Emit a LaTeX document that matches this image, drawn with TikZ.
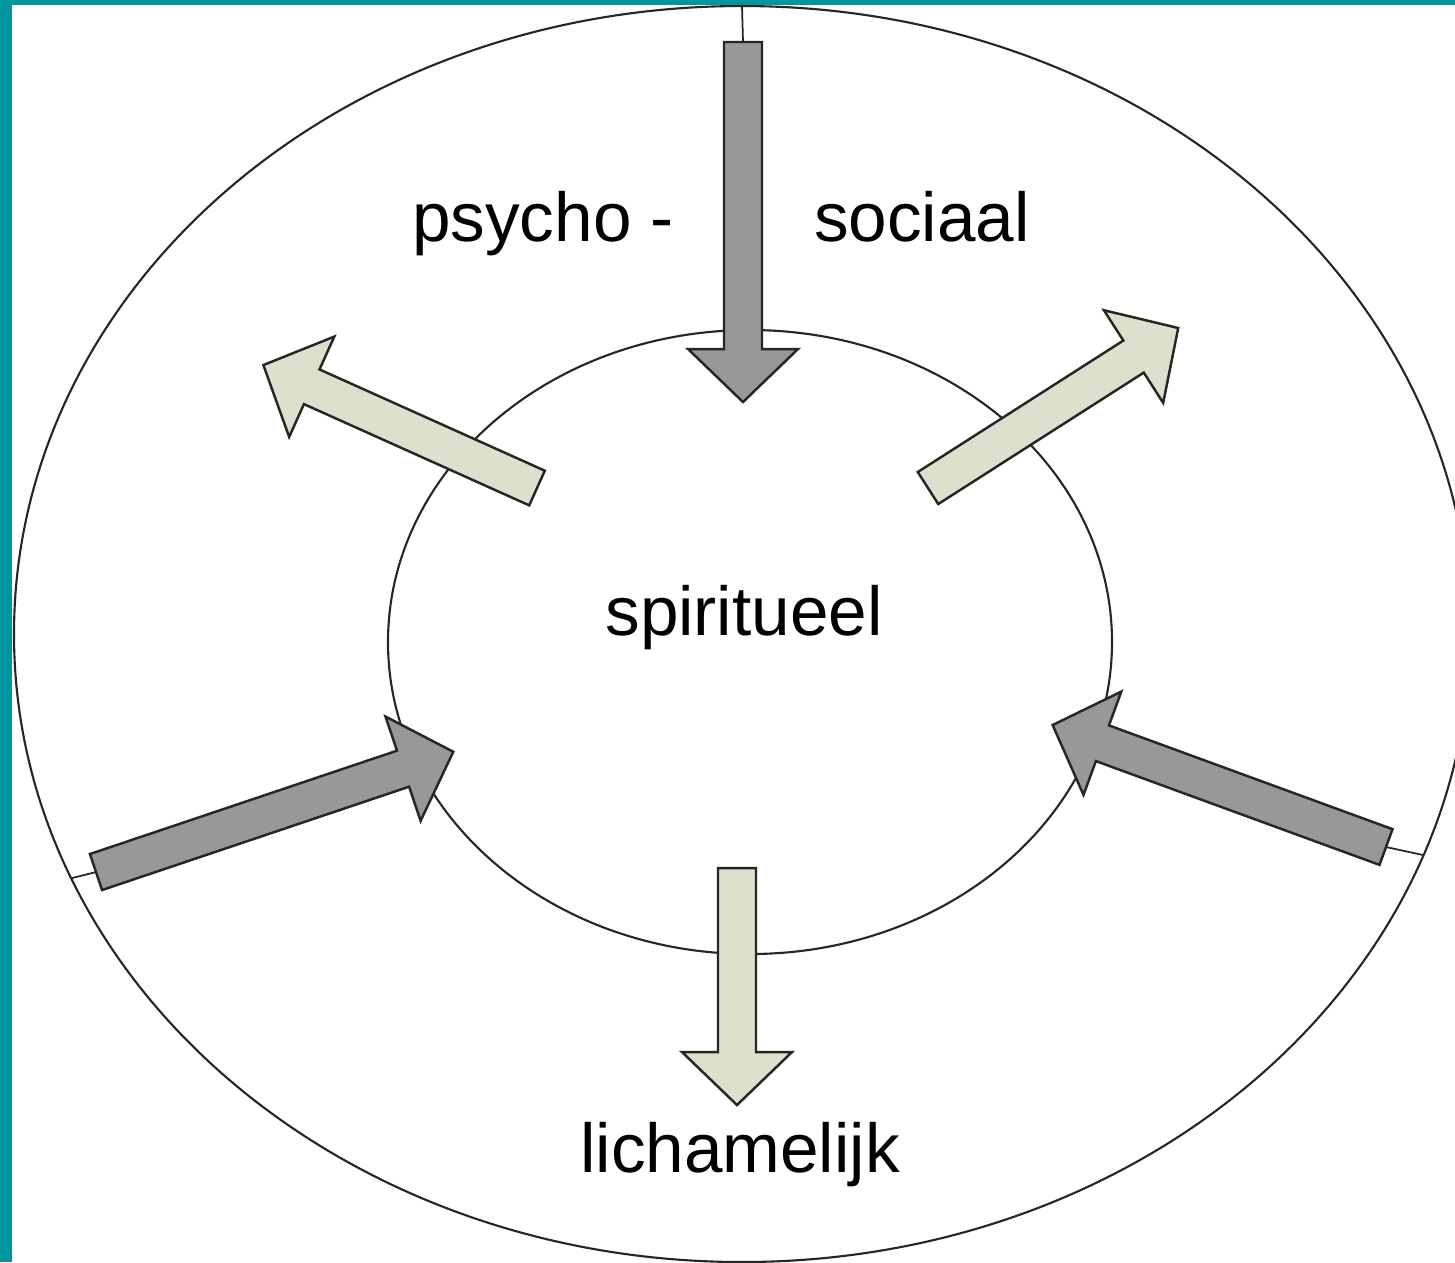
\documentclass[tikz,border=0pt]{standalone}
\usepackage{fontspec}
\setmainfont{Liberation Sans}
\usepackage{tikz}
\usetikzlibrary{calc}
\definecolor{frameteal}{RGB}{0,150,158}
\definecolor{arrowdark}{RGB}{152,152,152}
\definecolor{arrowlight}{RGB}{221,224,204}
\tikzset{
  ring/.style={draw=black!85,line width=0.6pt},
  darkarrow/.style={draw=black!85,line width=0.7pt,fill=arrowdark},
  lightarrow/.style={draw=black!85,line width=0.7pt,fill=arrowlight},
  link/.style={draw=black!85,line width=0.5pt},
  label/.style={font=\fontsize{19.7}{24}\selectfont,anchor=base,inner sep=0pt}
}
% block arrow: name of tail, style, tail point, angle, length
\newcommand{\blockarrow}[5]{%
  \begin{scope}[shift={#3},rotate=#4]
    \draw[#2] (0,-19) -- ({#5-53},-19) -- ({#5-53},-55) -- (#5,0)
      -- ({#5-53},55) -- ({#5-53},19) -- (0,19) -- cycle;
    \coordinate (#1) at (0,0);
  \end{scope}}

\begin{document}
\begin{tikzpicture}[x=0.01cm,y=-0.01cm]
        \useasboundingbox (0,0) rectangle (1455,1262);
        \fill[frameteal] (0,0) rectangle (1455,1262);
        \fill[white] (12,5) rectangle (1455,1262);
        \clip (12,5) rectangle (1455,1262);
        % rings
        \draw[ring] (742,634) ellipse [x radius=728,y radius=628];
        \draw[ring] (750,642) ellipse [x radius=362,y radius=312];
        \coordinate (outertop) at (742,6);
        \coordinate (outerleft) at (72,878);
        \coordinate (outerright) at (1423,855);
        % arrows in
        \blockarrow{tailtop}{darkarrow}{(743,42)}{-90}{360}
        \blockarrow{tailleft}{darkarrow}{(96,872)}{18.6}{377}
        \blockarrow{tailright}{darkarrow}{(1386,847)}{159.9}{355}
        % arrows out
        \blockarrow{tailul}{lightarrow}{(537,488)}{155.8}{300}
        \blockarrow{tailur}{lightarrow}{(928,488)}{32.6}{297}
        \blockarrow{tailbottom}{lightarrow}{(737,868)}{-90}{237}
        \draw[link] (outertop) -- (tailtop);
        \draw[link] (outerleft) -- (tailleft);
        \draw[link] (outerright) -- (tailright);
        % labels
        \node[label] (psycho) at (543,241) {psycho -};
        \node[label] (sociaal) at (922,241) {sociaal};
        \node[label] (spiritueel) at (744,635) {spiritueel};
        \node[label] (lichamelijk) at (740,1172) {lichamelijk};
      \end{tikzpicture}
\end{document}
